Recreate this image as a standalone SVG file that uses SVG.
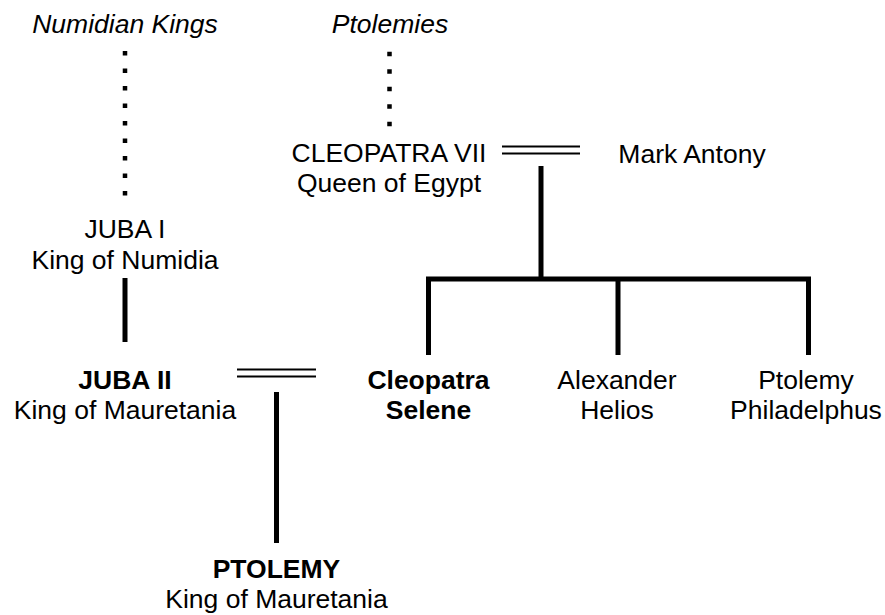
<svg xmlns="http://www.w3.org/2000/svg" width="885" height="615" viewBox="0 0 885 615">
<style>
text{font-family:"Liberation Sans",Arial,sans-serif;font-size:26.5px;fill:#000;text-anchor:middle}
.it{font-style:italic}
.b{font-weight:bold}
.ln{stroke:#000;stroke-width:5;fill:none}
.thin{stroke:#000;stroke-width:2;fill:none}
.dot{stroke:#000;stroke-width:4.5;stroke-dasharray:4.5 13;fill:none}
</style>
<rect width="885" height="615" fill="#fff"/>
<g id="connectors">
<line class="dot" x1="125" y1="51" x2="125" y2="196"/>
<line class="dot" x1="389.5" y1="51.8" x2="389.5" y2="127"/>
<line class="thin" x1="502" y1="146.5" x2="580" y2="146.5"/>
<line class="thin" x1="502" y1="153.5" x2="580" y2="153.5"/>
<line class="ln" x1="541" y1="166" x2="541" y2="279"/>
<path class="ln" d="M428.5 355 V279 H808.5 V355 M618 279 V355"/>
<line class="ln" x1="125" y1="278" x2="125" y2="342"/>
<line class="thin" x1="237" y1="369.5" x2="316" y2="369.5"/>
<line class="thin" x1="237" y1="376.5" x2="316" y2="376.5"/>
<line class="ln" x1="276.5" y1="392" x2="276.5" y2="543"/>
</g>
<g id="numidian-kings"><text class="it" x="125" y="33">Numidian Kings</text></g>
<g id="ptolemies"><text class="it" x="390" y="33">Ptolemies</text></g>
<g id="cleopatra-vii"><text x="389" y="162">CLEOPATRA VII</text><text x="389" y="192">Queen of Egypt</text></g>
<g id="mark-antony"><text x="692" y="163">Mark Antony</text></g>
<g id="juba-i"><text x="125" y="238">JUBA I</text><text x="125" y="269">King of Numidia</text></g>
<g id="juba-ii"><text class="b" x="125" y="389">JUBA II</text><text x="125" y="419">King of Mauretania</text></g>
<g id="cleopatra-selene"><text class="b" x="428.5" y="389">Cleopatra</text><text class="b" x="428.5" y="419">Selene</text></g>
<g id="alexander-helios"><text x="617" y="389">Alexander</text><text x="617" y="419">Helios</text></g>
<g id="ptolemy-philadelphus"><text x="806" y="389">Ptolemy</text><text x="806" y="419">Philadelphus</text></g>
<g id="ptolemy"><text class="b" x="276.5" y="578">PTOLEMY</text><text x="276.5" y="608">King of Mauretania</text></g>
</svg>
